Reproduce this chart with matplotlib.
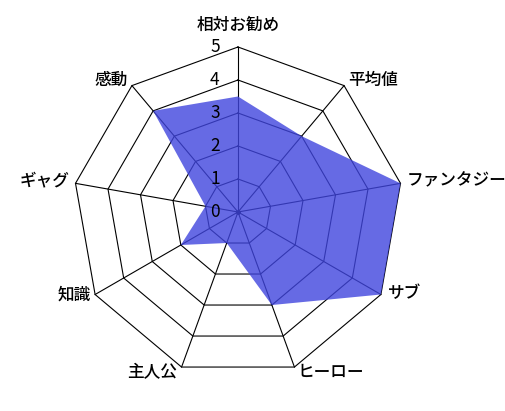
import numpy as np
import matplotlib
matplotlib.use("Agg")
import matplotlib.pyplot as plt

plt.rcParams['font.family'] = ['Noto Sans CJK JP', 'DejaVu Sans']

categories = ["相対お勧め", "平均値", "ファンタジー", "サブ", "ヒーロー",
              "主人公", "知識", "ギャグ", "感動"]
values = [3.5, 3, 5, 5, 3, 1, 2, 1, 4]
levels = [0, 1, 2, 3, 4, 5]

n = len(categories)
# first axis points straight up, the rest go clockwise
angles = np.pi / 2 - np.arange(n) * 2 * np.pi / n
rmax = levels[-1]

fig = plt.figure(figsize=(5.05, 4.11), dpi=100)
ax = fig.add_axes([0, 0, 1, 1])
# 33 px per unit, centre at (238, 212) px from the top-left corner
ax.set_xlim(-238 / 33, (505 - 238) / 33)
ax.set_ylim(-(411 - 212) / 33, 212 / 33)
ax.axis("off")

# rings
for lv in levels[1:]:
    xs = lv * np.cos(np.append(angles, angles[0]))
    ys = lv * np.sin(np.append(angles, angles[0]))
    ax.plot(xs, ys, color="black", lw=0.8, zorder=1)

# spokes
for a in angles:
    ax.plot([0, rmax * np.cos(a)], [0, rmax * np.sin(a)], color="black", lw=0.8, zorder=1)
ax.plot(0, 0, "o", color="black", ms=2.5, zorder=1)

# data area
vx = np.array(values) * np.cos(angles)
vy = np.array(values) * np.sin(angles)
ax.fill(vx, vy, color=(0.25, 0.27, 0.87), alpha=0.8, lw=0, zorder=2)

# scale numbers along the top spoke
for lv in levels:
    ax.text(-0.7, lv, str(lv), ha="center", va="center", fontsize=12.5, zorder=3)

# category labels
label_pos = [
    (0, 5.67, "center", "center"),
    (3.35, 4.0, "left", "center"),
    (5.1, 0.95, "left", "center"),
    (4.55, -2.45, "left", "center"),
    (1.8, -4.85, "left", "center"),
    (-1.85, -4.85, "right", "center"),
    (-4.45, -2.5, "right", "center"),
    (-5.1, 0.95, "right", "center"),
    (-3.35, 4.0, "right", "center"),
]
for (x, y, ha, va), name in zip(label_pos, categories):
    ax.text(x, y, name, ha=ha, va=va, fontsize=12, fontweight="medium")

fig.savefig("out.png", dpi=100)
